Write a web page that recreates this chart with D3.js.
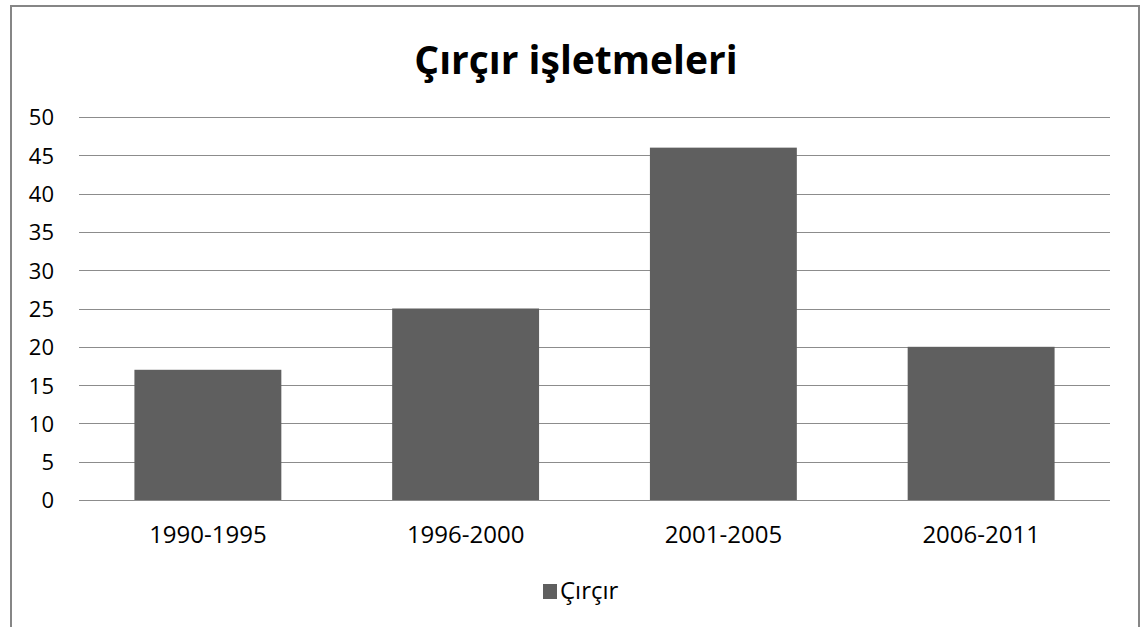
<!DOCTYPE html>
<html>
<head>
<meta charset="utf-8">
<script src="https://cdn.jsdelivr.net/npm/d3@7"></script>
<style>
  body { margin: 0; background: #fff; }
  text { font-family: "Open Sans", "DejaVu Sans", sans-serif; fill: #000; }
</style>
</head>
<body>
<div id="chart-area"></div>
<script>
// data
const categories = ["1990-1995", "1996-2000", "2001-2005", "2006-2011"];
const values = [17, 25, 46, 20];
const yTicks = [0, 5, 10, 15, 20, 25, 30, 35, 40, 45, 50];
const seriesName = "Çırçır";
const title = "Çırçır işletmeleri";

const W = 1148, H = 627;
var margin = { top: 117, right: 38, bottom: 127, left: 79 };
var width = W - margin.left - margin.right,
    height = H - margin.top - margin.bottom;

var svg = d3.select("#chart-area").append("svg")
    .attr("width", W)
    .attr("height", H);

// outer frame
svg.append("rect")
    .attr("x", 11).attr("y", 6)
    .attr("width", 1128).attr("height", 640)
    .attr("fill", "none")
    .attr("stroke", "#868686")
    .attr("stroke-width", 2);

// title
svg.append("text")
    .attr("x", 576).attr("y", 74)
    .attr("text-anchor", "middle")
    .style("font-size", "39px")
    .style("font-weight", "bold")
    .text(title);

var g = svg.append("g")
    .attr("transform", "translate(" + margin.left + "," + margin.top + ")");

var x = d3.scaleBand()
    .domain(categories)
    .range([0, width])
    .paddingInner(0.43)
    .paddingOuter(0.215);

var y = d3.scaleLinear()
    .domain([0, 50])
    .range([height, 0]);

// gridlines
g.selectAll(".grid").data(yTicks).enter()
  .append("line")
    .attr("x1", 0).attr("x2", width)
    .attr("y1", d => Math.round(y(d)) + 0.5)
    .attr("y2", d => Math.round(y(d)) + 0.5)
    .attr("stroke", "#8c8c8c")
    .attr("stroke-width", 1);

// y labels
var yAxis = d3.axisLeft(y).tickValues(yTicks).tickSize(0).tickPadding(25);
g.append("g").call(yAxis)
  .call(s => s.select(".domain").remove())
  .selectAll("text")
    .attr("dy", "0.36em")
    .style("font-size", "22px")
    .style("fill", "#000");

// bars
g.selectAll("rect.bar").data(values).enter()
  .append("rect")
    .attr("class", "bar")
    .attr("x", (d, i) => x(categories[i]))
    .attr("y", d => y(d))
    .attr("width", x.bandwidth())
    .attr("height", d => height - y(d))
    .attr("fill", "#5f5f5f");

// x labels
var xAxis = d3.axisBottom(x).tickSize(0);
g.append("g")
    .attr("transform", "translate(0," + height + ")")
    .call(xAxis)
  .call(s => s.select(".domain").remove())
  .selectAll("text")
    .attr("y", 43)
    .attr("dy", 0)
    .style("font-size", "24px")
    .style("fill", "#000");

// legend
var legend = svg.append("g").attr("transform", "translate(543,584)");
legend.append("rect")
    .attr("width", 14).attr("height", 15)
    .attr("fill", "#5f5f5f");
legend.append("text")
    .attr("x", 17).attr("y", 15)
    .style("font-size", "24px")
    .text(seriesName);
</script>
</body>
</html>
